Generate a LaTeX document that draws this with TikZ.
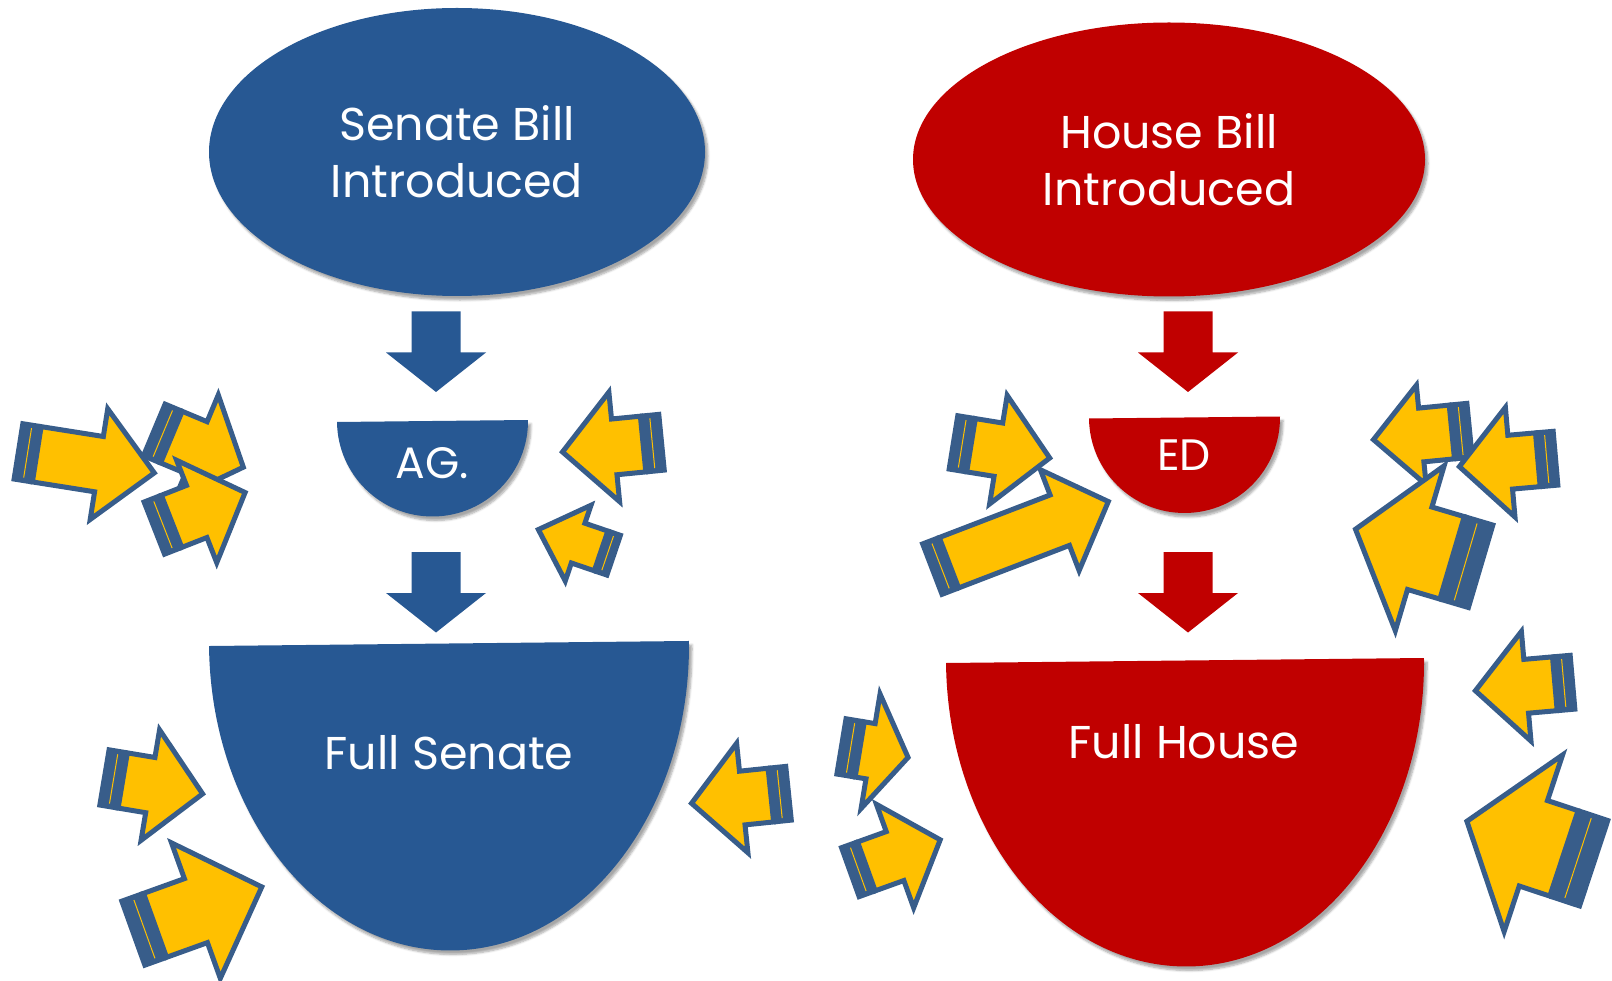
\documentclass[tikz,border=0pt]{standalone}
\usepackage{fontspec}
\setmainfont{Poppins}
\usetikzlibrary{shapes.geometric, shadows.blur}

\definecolor{senate}{RGB}{39,88,147}
\definecolor{house}{RGB}{192,0,0}
\definecolor{gold}{RGB}{255,192,0}
\definecolor{edge}{RGB}{56,93,138}

\tikzset{
  softshadow/.style={blur shadow={shadow xshift=3pt, shadow yshift=-4pt, shadow opacity=35, shadow blur steps=6}},
  bill/.style={ellipse, fill=#1, text=white, align=center, inner sep=0pt, softshadow,
    font=\fontsize{46}{57}\selectfont},
  txt/.style={text=white, inner sep=0pt, anchor=base, font=\fontsize{46}{57}\selectfont},
  barb/.style={fill=gold, draw=edge, line width=5},
}

% block arrow pointing down, given the top centre of its shaft
\newcommand\downblock[2]{\fill[#2] (#1) ++(-24.5,0) -- ++(49,0) -- ++(0,41) -- ++(25.5,0) -- ++(-50,39.5) -- ++(-50,-39.5) -- ++(25.5,0) -- cycle;}

% striped arrow: tail x, tail y, angle, length, shaft half width, head half width, head length
\newcommand\yarrow[7]{%
  \begin{scope}[shift={(#1,#2)}, rotate=#3]
    \fill[edge] (0,{-#5-2.5}) rectangle ({0.75*#5},{#5+2.5});
    \draw[gold, line width=1] ({0.42*#5},{-#5+3}) -- ({0.42*#5},{#5-3});
    \draw[barb] ({0.75*#5},-#5) -- ({#4-#7},-#5) -- ({#4-#7},-#6) -- (#4,0) -- ({#4-#7},#6) -- ({#4-#7},#5) -- ({0.75*#5},#5) -- cycle;
  \end{scope}}

\begin{document}
\begin{tikzpicture}[x=1pt, y=-1pt]
    \useasboundingbox (0,0) rectangle (1612,981);

    % senate side
    \node [bill=senate, minimum width=496, minimum height=288] (sbill) at (457,152) {Senate Bill\\Introduced};
    \coordinate (s1) at (436,311.5);
    \downblock{s1}{senate}
    \begin{scope}[rotate around={0.6:(432.5,421)}]
        \path [fill=senate, softshadow] (337,421) arc [start angle=180, end angle=0, radius=95.5] -- cycle;
    \end{scope}
    \node [txt] (ag) at (432,478) {\fontsize{44}{50}\selectfont AG.};
    \coordinate (s2) at (436,552);
    \downblock{s2}{senate}
    \begin{scope}[rotate around={0.6:(449,643.5)}]
        \path [fill=senate, softshadow] (209,643.5) arc [start angle=180, end angle=0, x radius=240, y radius=307] -- cycle;
    \end{scope}
    \node [txt] (fsen) at (449,769) {Full Senate};

    % house side
    \node [bill=house, minimum width=512, minimum height=274] (hbill) at (1169,159.5) {House Bill\\Introduced};
    \coordinate (h1) at (1188,311.5);
    \downblock{h1}{house}
    \begin{scope}[rotate around={0.6:(1184.5,417.5)}]
        \path [fill=house, softshadow] (1089,417.5) arc [start angle=180, end angle=0, radius=95.5] -- cycle;
    \end{scope}
    \node [txt] (ed) at (1184,471) {\fontsize{44}{50}\selectfont ED};
    \coordinate (h2) at (1188,552);
    \downblock{h2}{house}
    \begin{scope}[rotate around={0.6:(1185,660.5)}]
        \path [fill=house, softshadow] (946,660.5) arc [start angle=180, end angle=0, x radius=239, y radius=306] -- cycle;
    \end{scope}
    \node [txt] (fhouse) at (1184,758) {Full House};

    % pressure arrows
    \yarrow{16}{451}{-9}{140}{28}{56}{56}
    \yarrow{152}{429}{-22.7}{99}{28}{57}{51}
    \yarrow{152}{529}{21.4}{100}{28}{55}{52}
    \yarrow{664}{442}{185.6}{102}{28}{55}{52}
    \yarrow{616}{556}{161.2}{82}{21}{40}{42}
    \yarrow{102}{777}{-9.5}{102}{28}{56}{53}
    \yarrow{131}{934}{19.8}{139}{34}{72}{70}
    \yarrow{791}{793}{185.9}{100}{27}{55}{51}
    \yarrow{951}{442}{-9.2}{100}{27}{55}{52}
    \yarrow{930}{570}{21}{191}{27}{54}{52}
    \yarrow{1472}{430}{185.6}{99}{27}{50}{48}
    \yarrow{1558}{458}{185}{99}{27}{55}{51}
    \yarrow{1483}{567}{163.5}{133}{43}{86}{67}
    \yarrow{839}{746}{-9.4}{70}{28}{58}{38}
    \yarrow{848}{873}{19.8}{98}{26}{55}{48}
    \yarrow{1575}{682}{185}{100}{27}{55}{51}
    \yarrow{1596}{864}{161.7}{136}{45}{93}{70}
\end{tikzpicture}
\end{document}
